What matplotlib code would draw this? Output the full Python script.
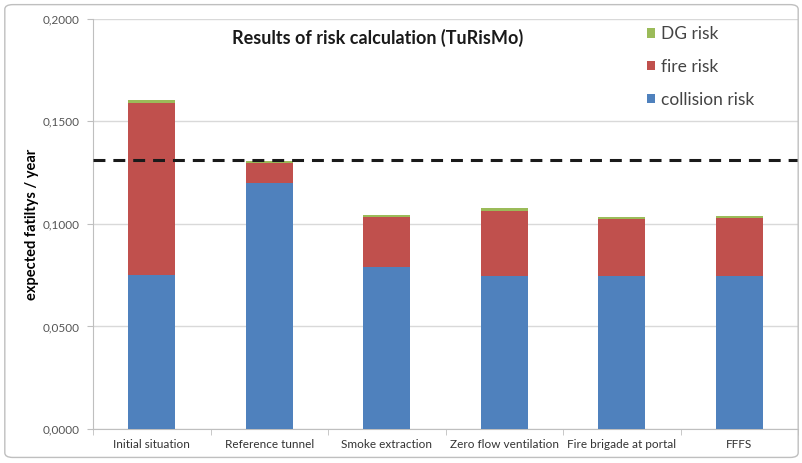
import matplotlib.pyplot as plt
import numpy as np
from matplotlib.patches import FancyBboxPatch
from matplotlib.ticker import FuncFormatter, FixedLocator

plt.rcParams['font.family'] = ['Lato', 'DejaVu Sans']

categories = ['Initial situation', 'Reference tunnel', 'Smoke extraction',
              'Zero flow ventilation', 'Fire brigade at portal', 'FFFS']
collision_risk = [0.0750, 0.1200, 0.0790, 0.0745, 0.0745, 0.0745]
fire_risk = [0.0840, 0.0095, 0.0245, 0.0320, 0.0280, 0.0285]
dg_risk = [0.0015, 0.0010, 0.0010, 0.0012, 0.0010, 0.0010]
reference_level = 0.1310

c_col = '#4F81BD'
c_fire = '#C0504D'
c_dg = '#9BBB59'

fig = plt.figure(figsize=(8.03, 4.63), dpi=100)
fig.patches.append(FancyBboxPatch((0.006, 0.012), 0.988, 0.978, boxstyle='round,pad=0,rounding_size=0.01',
                                  transform=fig.transFigure, fill=False, edgecolor='#bfbfbf', lw=1))
ax = fig.add_axes([0.116, 0.0734, 0.878, 0.886])

x = np.arange(len(categories))
w = 0.4
coll = np.array(collision_risk)
fire = np.array(fire_risk)
dg = np.array(dg_risk)
ax.bar(x, coll, w, color=c_col, label='collision risk', zorder=3)
ax.bar(x, fire, w, bottom=coll, color=c_fire, label='fire risk', zorder=3)
ax.bar(x, dg, w, bottom=coll + fire, color=c_dg, label='DG risk', zorder=3)

ax.axhline(reference_level, color='#1a1a1a', lw=2.2, ls=(0, (3.9, 2.6)), zorder=4)

ax.set_xlim(-0.5, len(categories) - 0.5)
ax.set_ylim(0, 0.2)
ax.yaxis.set_major_locator(FixedLocator([0, 0.05, 0.1, 0.15, 0.2]))
ax.yaxis.set_major_formatter(FuncFormatter(lambda v, p: ('%.4f' % v).replace('.', ',')))
ax.grid(axis='y', color='#d9d9d9', lw=1, zorder=0)
ax.set_xticks(x)
ax.set_xticklabels(categories, fontsize=8.5, color='#333333')
ax.set_xticks(np.arange(len(categories) + 1) - 0.5, minor=True)
ax.tick_params(axis='x', which='major', length=0, pad=7)
ax.tick_params(axis='x', which='minor', length=4, color='#bfbfbf')
ax.tick_params(axis='y', labelsize=8.5, labelcolor='#555555', length=4, color='#bfbfbf', pad=6)
for s in ['top', 'right']:
    ax.spines[s].set_visible(False)
for s in ['left', 'bottom']:
    ax.spines[s].set_color('#bfbfbf')

ax.set_ylabel('expected fatiltys / year', fontsize=10.5, fontweight='bold', labelpad=2)
ax.text(0.403, 0.954, 'Results of risk calculation (TuRisMo)', transform=ax.transAxes,
        ha='center', va='center', fontsize=13, fontweight='bold', color='#1a1a1a')

h, l = ax.get_legend_handles_labels()
ax.legend(h[::-1], l[::-1], loc='upper left', bbox_to_anchor=(0.763, 1.02), frameon=False,
          fontsize=12.5, handlelength=0.45, handleheight=0.45, handletextpad=0.35, labelspacing=0.96,
          labelcolor='#444444')

fig.savefig('out.png', dpi=100)
